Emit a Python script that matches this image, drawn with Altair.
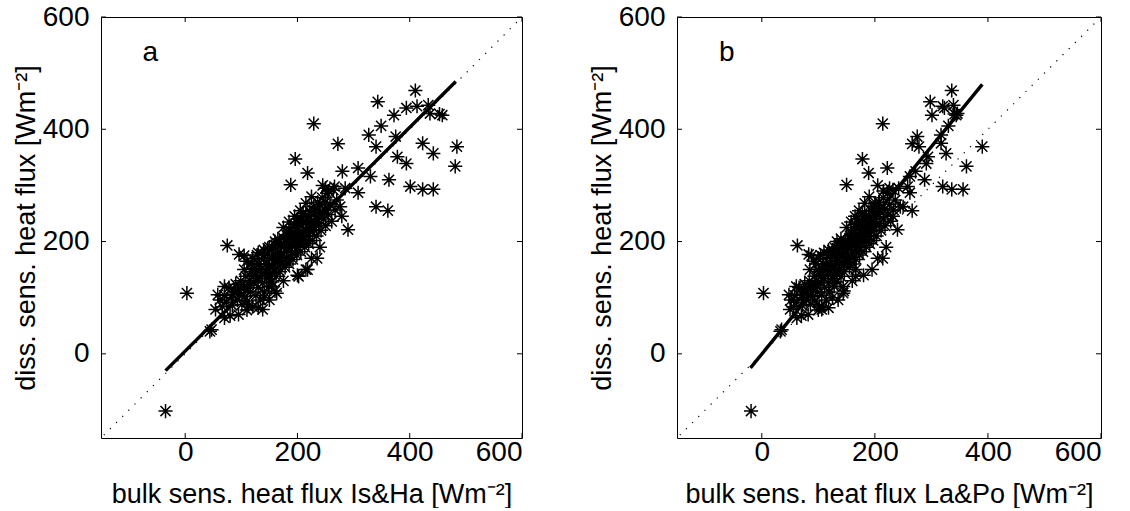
import altair as alt
import pandas as pd

# ---- data (W m^-2) ----
diss = [-102, 108, 43, 40, 193, 177, 79, 105, 120, 347, 301, 322, 410, 374, 325, 221, 331,
        449, 390, 406, 425, 438, 469, 441, 443, 428, 427, 425, 369, 334, 375, 357, 298, 293,
        293, 262, 255, 310, 351, 339, 387, 369, 316, 287, 295, 262, 245, 298, 295, 188, 120,
        79, 85, 108, 138, 150,
        96, 84, 104, 92, 118, 100, 86, 112, 124, 96, 108, 130, 88, 116, 102, 138, 94, 122,
        110, 146, 84, 128, 152, 104, 134, 118, 160, 96, 142, 126, 170, 110, 150, 134, 178,
        120, 158, 144, 186, 128, 166, 150, 194, 138, 172, 158, 200, 146, 180, 164, 206, 190,
        154, 212, 172, 196, 160, 220, 184, 204, 168, 226, 192, 210, 176, 232, 198, 216, 182,
        240, 204, 222, 190, 246, 210, 230, 196, 254, 218, 236, 202, 262, 226, 244, 210, 270,
        232, 252, 220, 278, 240, 258, 228, 286, 248, 266, 236, 292, 256, 274,
        176, 160, 150, 100, 112, 130, 140, 150, 170, 190, 170, 96, 82, 78, 70, 68, 64, 205,
        235, 225, 255, 245, 268, 280, 300, 290, 190, 185, 170, 180, 165, 175,
        150, 160, 170, 180, 195, 200, 215, 225, 235, 245, 255, 265, 140, 150, 160, 170, 180,
        190, 200, 210, 220, 140, 130, 120, 115, 105, 150, 160, 175, 185, 200, 210, 200, 210,
        220, 230, 240, 250, 270, 250, 240, 230]

bulk_isha = [-35, 3, 47, 44, 75, 96, 54, 58, 70, 196, 188, 218, 229, 272, 280, 290, 308,
             343, 327, 349, 372, 394, 410, 413, 433, 436, 453, 458, 484, 481, 423, 442, 401,
             423, 442, 340, 361, 363, 378, 394, 375, 340, 330, 308, 285, 276, 279, 266, 250,
             147, 154, 138, 112, 163, 202, 218,
             62, 66, 70, 74, 78, 82, 84, 88, 90, 93, 96, 99, 101, 104, 106, 108, 111, 113,
             116, 118, 120, 122, 124, 126, 128, 130, 132, 134, 136, 138, 140, 141, 143, 145,
             147, 149, 150, 152, 154, 155, 157, 159, 161, 162, 164, 166, 168, 169, 171, 173,
             175, 176, 178, 180, 181, 183, 185, 187, 188, 190, 192, 194, 195, 197, 199, 201,
             202, 204, 206, 208, 209, 211, 213, 215, 216, 218, 220, 222, 223, 225, 227, 229,
             230, 232, 234, 236, 238, 240, 242, 244, 246, 248, 250, 253, 255, 258, 261, 264,
             267, 270,
             128, 118, 105, 140, 160, 175, 200, 215, 225, 240, 235, 150, 130, 110, 95, 80,
             70, 165, 185, 175, 205, 195, 215, 225, 245, 255, 150, 140, 120, 130, 110, 105,
             135, 145, 155, 165, 170, 180, 190, 200, 210, 220, 230, 240, 150, 160, 170, 180,
             190, 200, 210, 220, 230, 125, 115, 105, 95, 85, 120, 130, 140, 150, 160, 185,
             195, 205, 215, 225, 235, 245, 250, 210, 200, 195]

bulk_lapo = [-19, 3, 35, 33, 63, 83, 50, 48, 61, 178, 150, 189, 214, 266, 272, 240, 222,
             298, 317, 330, 301, 323, 336, 320, 339, 346, 341, 344, 390, 362, 317, 326, 320,
             336, 356, 250, 266, 288, 294, 291, 275, 278, 262, 262, 242, 245, 232, 258, 226,
             141, 144, 106, 106, 144, 166, 166,
             52, 56, 58, 62, 66, 70, 72, 74, 76, 79, 80, 84, 86, 88, 90, 93, 94, 96, 98, 101,
             102, 104, 107, 106, 110, 111, 115, 114, 117, 118, 122, 120, 124, 125, 129, 128,
             130, 131, 135, 133, 137, 138, 142, 140, 143, 144, 148, 146, 150, 151, 155, 154,
             155, 159, 158, 161, 161, 165, 164, 167, 167, 171, 170, 173, 173, 177, 176, 179,
             179, 183, 182, 185, 185, 189, 188, 191, 191, 195, 194, 197, 197, 201, 200, 203,
             203, 207, 208, 210, 211, 215, 215, 218, 218, 222, 223, 226, 228, 232, 233, 236,
             104, 96, 85, 125, 145, 160, 180, 195, 205, 220, 214, 135, 118, 100, 82, 70, 62,
             140, 158, 150, 172, 165, 182, 190, 205, 215, 128, 118, 100, 110, 92, 88,
             115, 122, 130, 138, 145, 152, 160, 168, 176, 185, 193, 200, 128, 136, 145, 152,
             160, 168, 176, 185, 193, 105, 97, 90, 82, 73, 100, 108, 116, 125, 133, 156,
             164, 172, 180, 188, 196, 204, 208, 178, 170, 165]

fit_a_x = [-35, 482]
fit_a_y = [-30, 485]
fit_b_x = [-20, 390]
fit_b_y = [-25, 480]
diag_vals = [-145, 595]
tick_vals = [0, 200, 400, 600]
axis_domain = [-150, 600]

W = 421
H = 421
TL = 5  # inward tick length in pixels
FONT = "Liberation Sans"
ASTERISK = "M0,-1L0,1M-1,0L1,0M-0.72,-0.72L0.72,0.72M-0.72,0.72L0.72,-0.72"

n = min(len(diss), len(bulk_isha), len(bulk_lapo))


def panel(xvals, fx, fy, letter, xtitle, width):
    sc = alt.Scale(domain=axis_domain, nice=False, zero=False)
    xax = alt.Axis(values=tick_vals, title=xtitle, labelFontSize=28, titleFontSize=27,
                   labelPadding=0, titlePadding=15, format="d")
    yax = alt.Axis(values=tick_vals, title="diss. sens. heat flux [Wm⁻²]", labelFontSize=28,
                   titleFontSize=27, labelPadding=12, titlePadding=2, format="d")
    pts = pd.DataFrame({"x": xvals[:n], "y": diss[:n]})
    diag = pd.DataFrame({"x": diag_vals, "y": diag_vals})
    fit = pd.DataFrame({"x": fx, "y": fy})
    ticks = pd.DataFrame({"v": tick_vals})
    lab = pd.DataFrame({"x": [-62], "y": [535], "t": [letter]})

    base_x = alt.X("x:Q", scale=sc, axis=xax)
    base_y = alt.Y("y:Q", scale=sc, axis=yax)

    l_diag = alt.Chart(diag).mark_line(color="black", strokeWidth=1.2, strokeDash=[1.2, 7.5]).encode(
        x=base_x, y=base_y)
    l_pts = alt.Chart(pts).mark_point(shape=ASTERISK, size=200, filled=False, color="black",
                                      strokeWidth=1.5, opacity=1).encode(x=base_x, y=base_y)
    l_fit = alt.Chart(fit).mark_line(color="black", strokeWidth=3.4).encode(x=base_x, y=base_y)
    l_txt = alt.Chart(lab).mark_text(fontSize=28, font=FONT, color="black", align="center",
                                     baseline="middle").encode(x=alt.X("x:Q", scale=sc),
                                                               y=alt.Y("y:Q", scale=sc),
                                                               text="t:N")
    tb = alt.Chart(ticks).mark_rule(color="black", strokeWidth=1).encode(
        x=alt.X("v:Q", scale=sc), y=alt.value(H), y2=alt.value(H - TL))
    tt = alt.Chart(ticks).mark_rule(color="black", strokeWidth=1).encode(
        x=alt.X("v:Q", scale=sc), y=alt.value(0), y2=alt.value(TL))
    tlft = alt.Chart(ticks).mark_rule(color="black", strokeWidth=1).encode(
        y=alt.Y("v:Q", scale=sc), x=alt.value(0), x2=alt.value(TL))
    trt = alt.Chart(ticks).mark_rule(color="black", strokeWidth=1).encode(
        y=alt.Y("v:Q", scale=sc), x=alt.value(width), x2=alt.value(width - TL))
    return alt.layer(l_diag, l_pts, l_fit, l_txt, tb, tt, tlft, trt).properties(width=width, height=H)


pa = panel(bulk_isha, fit_a_x, fit_a_y, "a", "bulk sens. heat flux Is&Ha [Wm⁻²]", W)
pb = panel(bulk_lapo, fit_b_x, fit_b_y, "b", "bulk sens. heat flux La&Po [Wm⁻²]", 424)

chart = alt.hconcat(pa, pb, spacing=64).configure_view(
    stroke="black", strokeWidth=1
).configure_axis(
    domain=False, ticks=False, grid=False, labelFont=FONT, titleFont=FONT,
    labelColor="black", titleColor="black", titleFontWeight="normal"
).properties(
    padding={"left": 11, "top": 2, "right": 5, "bottom": 0}, background="white"
)

chart.save("out.html", embed_options={"renderer": "svg", "actions": False})
